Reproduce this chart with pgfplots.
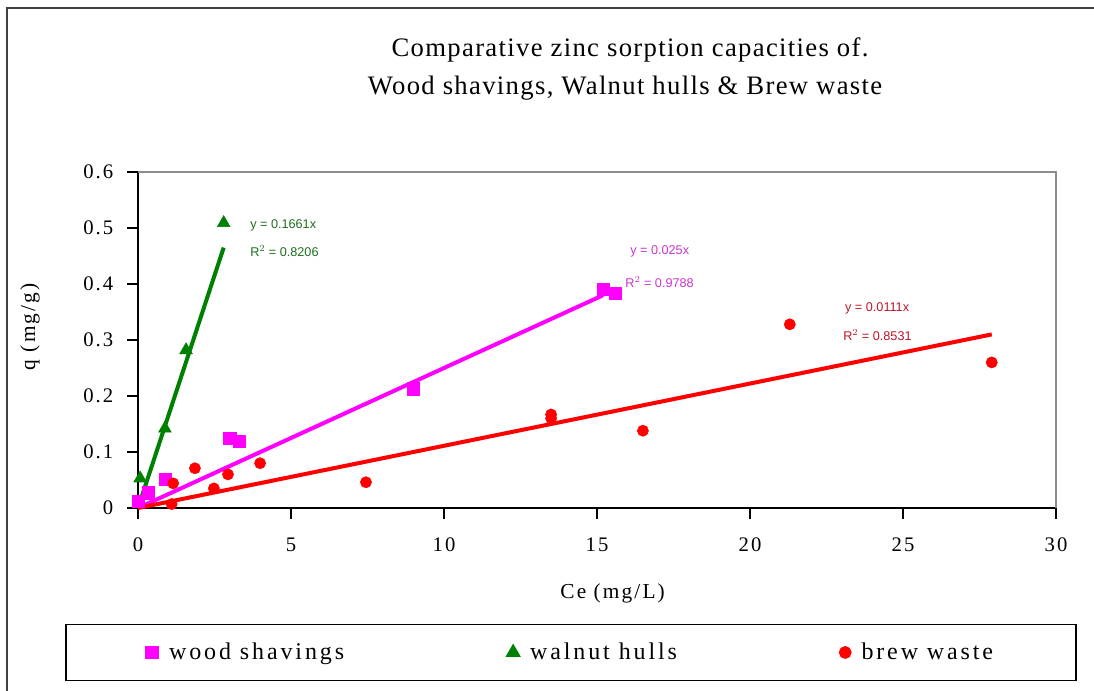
\documentclass[border=0pt]{standalone}
\usepackage{fontspec}
\setmainfont{Liberation Serif}
\newfontfamily\spaced[LetterSpace=10]{Liberation Serif}
\newfontfamily\titlefont[LetterSpace=5]{Liberation Serif}
\newfontfamily\legfont[LetterSpace=12]{Liberation Serif}
\newfontfamily\arial{Liberation Sans}
\usepackage{pgfplots}
\pgfplotsset{compat=1.18}
\definecolor{wood}{RGB}{255,0,255}
\definecolor{walnut}{RGB}{0,128,0}
\definecolor{brew}{RGB}{255,0,0}
\definecolor{woodtxt}{RGB}{204,51,204}
\definecolor{walnuttxt}{RGB}{30,110,30}
\definecolor{brewtxt}{RGB}{190,20,40}
\begin{document}
\begin{tikzpicture}[x=0.75pt,y=0.75pt]
\useasboundingbox (0,0) rectangle (1094,690);
\draw[line width=1.5pt, black!75] (7,-5) -- (7,682) -- (1100,682);
\node[font=\titlefont\fontsize{20}{24}\selectfont] at (630,640) {Comparative zinc sorption capacities of.};
\node[font=\titlefont\fontsize{20}{24}\selectfont] at (625,602) {Wood shavings, Walnut hulls \& Brew waste};
\begin{axis}[
  at={(103.5pt,136.5pt)}, anchor=south west,
  scale only axis, width=688.5pt, height=252pt,
  xmin=0, xmax=30, ymin=0, ymax=0.6,
  axis lines=left,
  axis line style={-, line width=1pt, black},
  xtick={0,5,...,30},
  ytick={0,0.1,0.2,0.3,0.4,0.5,0.6},
  tick align=outside,
  major tick length=8pt,
  tick style={line width=1pt, black},
  /pgf/number format/assume math mode=true,
  tick label style={font=\spaced\fontsize{15.5}{18}\selectfont},
  yticklabel style={/pgf/number format/fixed, /pgf/number format/precision=1, xshift=-7pt},
  xticklabel style={yshift=-11pt},
  xlabel={Ce (mg/L)},
  ylabel={q (mg/g)},
  label style={font=\spaced\fontsize{16}{19}\selectfont},
  xlabel style={at={(axis description cs:0.517,-0.253)}, anchor=center},
  ylabel style={at={(axis description cs:-0.1176,0.539)}, anchor=center, rotate=0},
  clip=false,
  legend columns=3,
  legend style={at={(axis description cs:0.4717,-0.430)}, anchor=center,
    draw=black, line width=1.2pt, font=\legfont\fontsize{18}{21}\selectfont,
    inner xsep=60pt, inner ysep=12pt,
    /tikz/every odd column/.append style={column sep=6pt},
    /tikz/every even column/.append style={column sep=120pt}},
  legend cell align=left,
]
\addplot[only marks, mark=square*, mark size=4.6pt, color=wood] coordinates {
  (0.0,0.012) (0.33,0.027) (0.9,0.051) (3.0,0.124) (3.3,0.119) (9.0,0.213) (15.2,0.39) (15.6,0.383)};
\addlegendentry{wood shavings}
\addplot[only marks, mark=triangle*, mark size=5.5pt, color=walnut] coordinates {
  (0.07,0.053) (0.88,0.142) (1.57,0.282) (2.8,0.509)};
\addlegendentry{walnut hulls}
\addplot[only marks, mark=*, mark size=4.2pt, color=brew] coordinates {
  (1.1,0.007) (1.15,0.044) (1.86,0.071) (2.48,0.035) (2.94,0.06) (3.99,0.08) (7.45,0.046)
  (13.5,0.167) (13.5,0.16) (16.5,0.138) (21.3,0.328) (27.9,0.26)};
\addlegendentry{brew waste}
\addplot[forget plot, wood, line width=3pt] coordinates {(0,0) (15.2,0.38)};
\addplot[forget plot, walnut, line width=3pt] coordinates {(0,0) (2.8,0.465)};
\addplot[forget plot, brew, line width=3pt] coordinates {(0,0) (27.9,0.31)};
\draw[black!45, line width=1pt] (rel axis cs:0,1) -- (rel axis cs:1,1) -- (rel axis cs:1,0);
\node[anchor=west, font=\arial\fontsize{9.5}{11}\selectfont, text=walnuttxt, inner sep=0pt] at (axis cs:3.66,0.505) {y = 0.1661x};
\node[anchor=west, font=\arial\fontsize{9.5}{11}\selectfont, text=walnuttxt, inner sep=0pt] at (axis cs:3.66,0.459) {R$^2$ = 0.8206};
\node[anchor=west, font=\arial\fontsize{9.5}{11}\selectfont, text=woodtxt, inner sep=0pt] at (axis cs:16.08,0.459) {y = 0.025x};
\node[anchor=west, font=\arial\fontsize{9.5}{11}\selectfont, text=woodtxt, inner sep=0pt] at (axis cs:15.92,0.404) {R$^2$ = 0.9788};
\node[anchor=west, font=\arial\fontsize{9.5}{11}\selectfont, text=brewtxt, inner sep=0pt] at (axis cs:23.1,0.357) {y = 0.0111x};
\node[anchor=west, font=\arial\fontsize{9.5}{11}\selectfont, text=brewtxt, inner sep=0pt] at (axis cs:23.04,0.309) {R$^2$ = 0.8531};
\end{axis}
\end{tikzpicture}
\end{document}
